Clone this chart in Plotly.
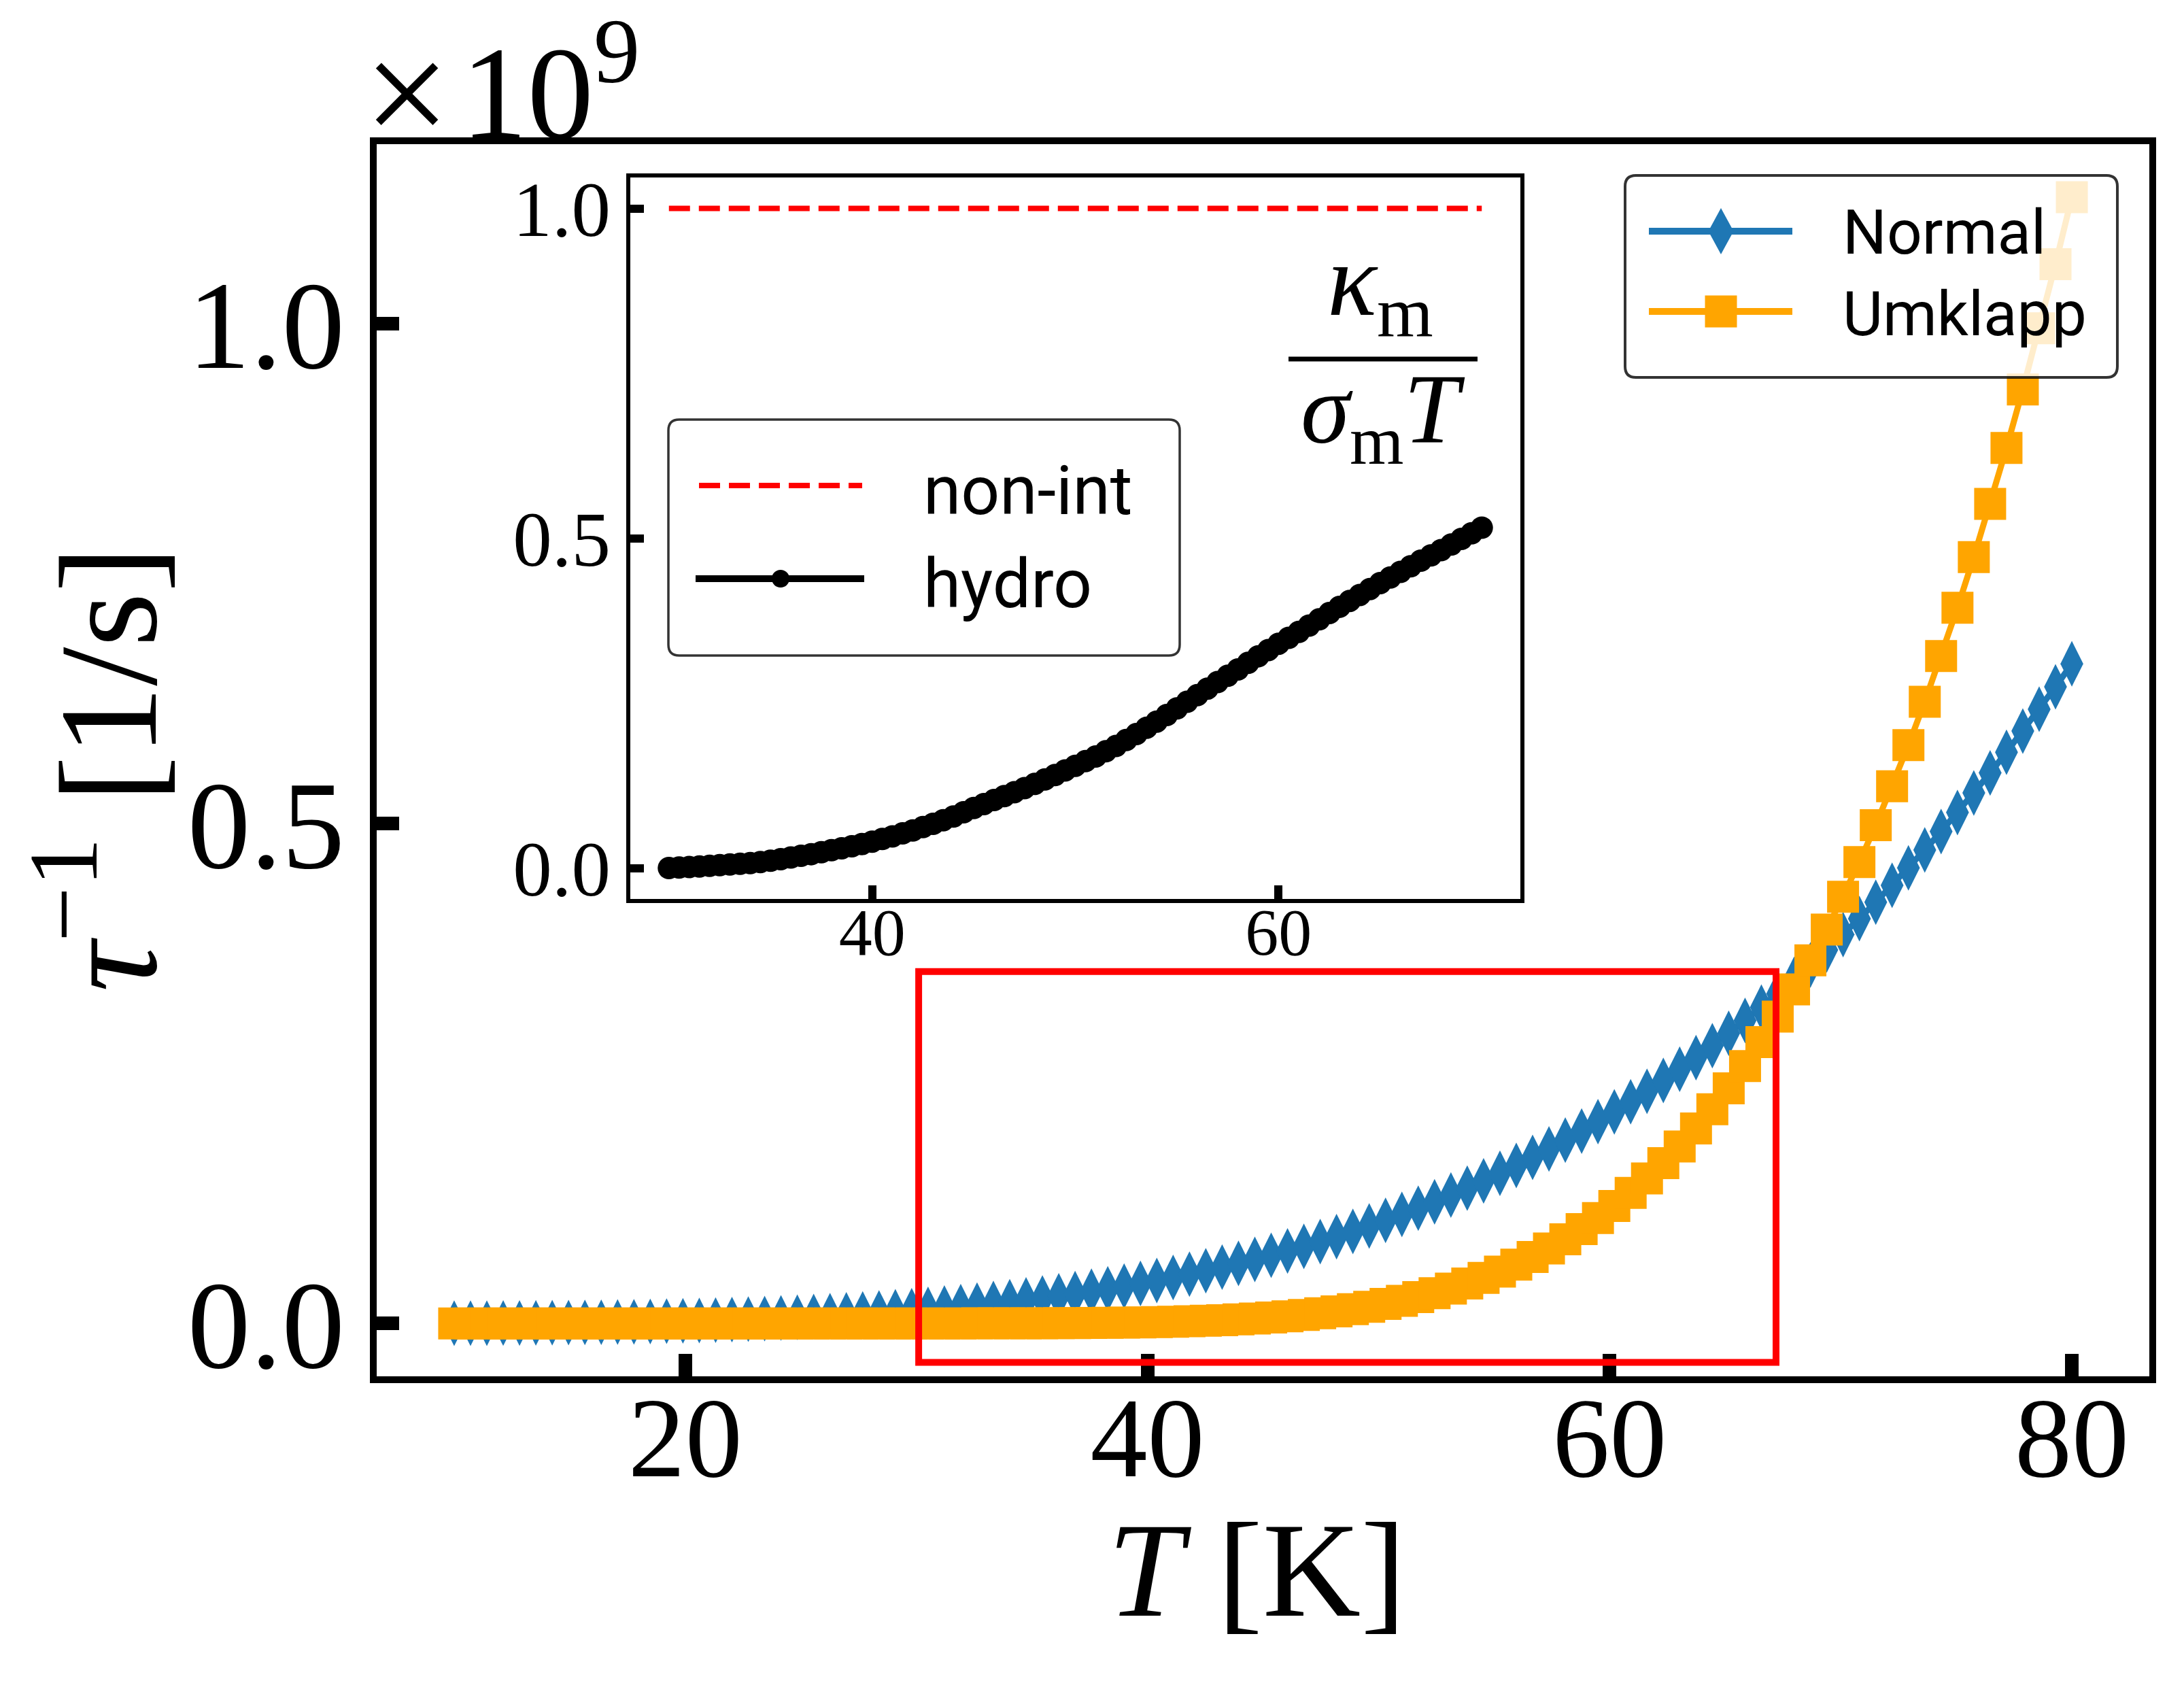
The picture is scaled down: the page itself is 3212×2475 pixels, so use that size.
import plotly.graph_objects as go

# ---------------- data ----------------
T_main = [10.000, 10.707, 11.414, 12.121, 12.828, 13.535, 14.242, 14.949, 15.657, 16.364,
          17.071, 17.778, 18.485, 19.192, 19.899, 20.606, 21.313, 22.020, 22.727, 23.434,
          24.141, 24.848, 25.556, 26.263, 26.970, 27.677, 28.384, 29.091, 29.798, 30.505,
          31.212, 31.919, 32.626, 33.333, 34.040, 34.747, 35.455, 36.162, 36.869, 37.576,
          38.283, 38.990, 39.697, 40.404, 41.111, 41.818, 42.525, 43.232, 43.939, 44.646,
          45.354, 46.061, 46.768, 47.475, 48.182, 48.889, 49.596, 50.303, 51.010, 51.717,
          52.424, 53.131, 53.838, 54.545, 55.253, 55.960, 56.667, 57.374, 58.081, 58.788,
          59.495, 60.202, 60.909, 61.616, 62.323, 63.030, 63.737, 64.444, 65.152, 65.859,
          66.566, 67.273, 67.980, 68.687, 69.394, 70.101, 70.808, 71.515, 72.222, 72.929,
          73.636, 74.343, 75.051, 75.758, 76.465, 77.172, 77.879, 78.586, 79.293, 80.000]

# tau^-1 in units of 1e9 1/s
normal = [0.00016, 0.00021, 0.00027, 0.00035, 0.00044, 0.00054, 0.00066, 0.00080, 0.00097, 0.00116,
          0.00137, 0.00161, 0.00188, 0.00219, 0.00253, 0.00291, 0.00332, 0.00379, 0.00430, 0.00486,
          0.00547, 0.00614, 0.00687, 0.00767, 0.00853, 0.00945, 0.01046, 0.01154, 0.01270, 0.01395,
          0.01529, 0.01673, 0.01826, 0.01989, 0.02163, 0.02349, 0.02546, 0.02755, 0.02977, 0.03212,
          0.03461, 0.03724, 0.04001, 0.04294, 0.04603, 0.04928, 0.05269, 0.05629, 0.06006, 0.06402,
          0.06818, 0.07253, 0.07709, 0.08185, 0.08684, 0.09205, 0.09749, 0.10317, 0.10909, 0.11527,
          0.12170, 0.12840, 0.13537, 0.14263, 0.15018, 0.15801, 0.16615, 0.17460, 0.18336, 0.19246,
          0.20188, 0.21165, 0.22177, 0.23225, 0.24309, 0.25431, 0.26592, 0.27791, 0.29033, 0.30314,
          0.31636, 0.33002, 0.34411, 0.35865, 0.37365, 0.38911, 0.40505, 0.42147, 0.43839, 0.45581,
          0.47374, 0.49220, 0.51122, 0.53076, 0.55085, 0.57151, 0.59274, 0.61456, 0.63697, 0.66000]

umklapp = [0.0, 0.0, 0.0, 0.0, 0.0, 0.0, 0.0, 0.0, 0.0, 0.0,
           0.0, 0.0, 0.0, 0.0, 0.0, 0.0, 0.0, 0.0, 0.0, 0.0,
           0.0, 0.0, 0.0, 0.0, 0.000002, 0.000003, 0.000004, 0.000007, 0.000010, 0.000016,
           0.000024, 0.000036, 0.000052, 0.000074, 0.000105, 0.000146, 0.000200, 0.000271, 0.000362, 0.000480,
           0.000628, 0.000815, 0.00105, 0.00134, 0.00169, 0.00212, 0.00263, 0.00325, 0.00399, 0.00487,
           0.00590, 0.00711, 0.00852, 0.01014, 0.01203, 0.01419, 0.01665, 0.01946, 0.02265, 0.02625,
           0.03030, 0.03483, 0.03990, 0.04558, 0.05186, 0.05882, 0.06646, 0.07494, 0.08415, 0.09431,
           0.10548, 0.11751, 0.13065, 0.14497, 0.16036, 0.17705, 0.19508, 0.21430, 0.23518, 0.25755,
           0.28139, 0.30696, 0.33419, 0.36321, 0.39405, 0.42688, 0.46164, 0.49849, 0.53746, 0.57863,
           0.62208, 0.66784, 0.71611, 0.76683, 0.82004, 0.87591, 0.93454, 0.99581, 1.05993, 1.12694]

T_inset = [30.0, 30.5, 31.0, 31.5, 32.0, 32.5, 33.0, 33.5, 34.0, 34.5,
           35.0, 35.5, 36.0, 36.5, 37.0, 37.5, 38.0, 38.5, 39.0, 39.5,
           40.0, 40.5, 41.0, 41.5, 42.0, 42.5, 43.0, 43.5, 44.0, 44.5,
           45.0, 45.5, 46.0, 46.5, 47.0, 47.5, 48.0, 48.5, 49.0, 49.5,
           50.0, 50.5, 51.0, 51.5, 52.0, 52.5, 53.0, 53.5, 54.0, 54.5,
           55.0, 55.5, 56.0, 56.5, 57.0, 57.5, 58.0, 58.5, 59.0, 59.5,
           60.0, 60.5, 61.0, 61.5, 62.0, 62.5, 63.0, 63.5, 64.0, 64.5,
           65.0, 65.5, 66.0, 66.5, 67.0, 67.5, 68.0, 68.5, 69.0, 69.5,
           70.0]

hydro = [0.0000, 0.0007, 0.0015, 0.0024, 0.0033, 0.0043, 0.0053, 0.0064, 0.0075, 0.0091,
         0.0110, 0.0134, 0.0160, 0.0185, 0.0210, 0.0240, 0.0270, 0.0300, 0.0330, 0.0364,
         0.0400, 0.0440, 0.0480, 0.0525, 0.0570, 0.0620, 0.0670, 0.0725, 0.0780, 0.0845,
         0.0910, 0.0970, 0.1030, 0.1090, 0.1150, 0.1212, 0.1275, 0.1342, 0.1410, 0.1480,
         0.1550, 0.1620, 0.1690, 0.1770, 0.1850, 0.1940, 0.2030, 0.2125, 0.2220, 0.2320,
         0.2420, 0.2520, 0.2620, 0.2720, 0.2820, 0.2915, 0.3010, 0.3110, 0.3210, 0.3305,
         0.3400, 0.3490, 0.3580, 0.3675, 0.3770, 0.3865, 0.3960, 0.4050, 0.4140, 0.4230,
         0.4320, 0.4405, 0.4490, 0.4575, 0.4660, 0.4740, 0.4820, 0.4905, 0.4990, 0.5075,
         0.5160]

T_nonint = [30.0, 70.0]
nonint = [1.0, 1.0]

main_xticks = [20, 40, 60, 80]
main_yticks = [0.0, 0.5, 1.0]
main_yticktext = ["0.0", "0.5", "1.0"]
inset_xticks = [40, 60]
inset_yticks = [0.0, 0.5, 1.0]
inset_yticktext = ["0.0", "0.5", "1.0"]

zoom_box = dict(x0=30.1, x1=67.2, y0=-0.039, y1=0.352)

# ---------------- layout geometry (pixels) ----------------
W, H = 3212, 2475
# spines (line centres) of the main axes: x 549..3166, y 207..2029; plotly draws
# axis lines outside the plot area, so the plot area is inset by half a line width
LW_MAIN = 10
ML, MR, MT, MB = 549 + 5, 46 + 5, 207 + 5, 446 + 5
PW = W - ML - MR
PH = H - MT - MB
PXU = 2617 / 77.0          # px per K between spine centres
PYU = 1822 / 1.2397        # px per 1e9 between spine centres
XR = [6.5 + 5 / PXU, 83.5 - 5 / PXU]
YR = [-0.05635 + 5 / PYU, 1.18335 - 5 / PYU]

# inset spines: x 924..2239, y 258..1325 (line width 6)
IPXU = 1315 / 44.0
IPYU = 1067 / 1.1
IXR = [28 + 3 / IPXU, 72 - 3 / IPXU]
IYR = [-0.05 + 3 / IPYU, 1.05 - 3 / IPYU]

def px(x):
    return (x - ML) / PW

def py(y):
    return (H - MB - y) / PH

def P(x, y):
    return f"{px(x):.5f},{py(y):.5f}"

def rrect(x0, y0, x1, y1, r):
    return (f"M{P(x0 + r, y0)} L{P(x1 - r, y0)} Q{P(x1, y0)} {P(x1, y0 + r)} "
            f"L{P(x1, y1 - r)} Q{P(x1, y1)} {P(x1 - r, y1)} L{P(x0 + r, y1)} "
            f"Q{P(x0, y1)} {P(x0, y1 - r)} L{P(x0, y0 + r)} Q{P(x0, y0)} {P(x0 + r, y0)} Z")

BLUE = "#1f77b4"
ORANGE = "#ffa500"
SERIF = "Liberation Serif"
SANS = "Roboto"

fig = go.Figure()
fig.add_trace(go.Scatter(x=T_main, y=normal, mode="lines+markers", name="Normal",
                         line=dict(color=BLUE, width=9),
                         marker=dict(symbol="diamond-tall", size=48, color=BLUE, line=dict(width=0)),
                         xaxis="x", yaxis="y", hoverinfo="skip"))
fig.add_trace(go.Scatter(x=T_main, y=umklapp, mode="lines+markers", name="Umklapp",
                         line=dict(color=ORANGE, width=9),
                         marker=dict(symbol="square", size=47, color=ORANGE, line=dict(width=0)),
                         xaxis="x", yaxis="y", hoverinfo="skip"))
fig.add_trace(go.Scatter(x=T_nonint, y=nonint, mode="lines", name="non-int",
                         line=dict(color="red", width=8, dash="31px,13px"),
                         xaxis="x2", yaxis="y2", hoverinfo="skip"))
fig.add_trace(go.Scatter(x=T_inset, y=hydro, mode="lines+markers", name="hydro",
                         line=dict(color="black", width=12),
                         marker=dict(symbol="circle", size=33, color="black", line=dict(width=0)),
                         xaxis="x2", yaxis="y2", hoverinfo="skip"))

axis_common = dict(showgrid=False, zeroline=False, showline=True, linecolor="black",
                   mirror=True, ticks="inside", tickcolor="black")

shapes = []
# zoom rectangle in the main axes
shapes.append(dict(type="rect", xref="x", yref="y", layer="above",
                   line=dict(color="red", width=10), fillcolor="rgba(0,0,0,0)", **zoom_box))
# main legend
shapes.append(dict(type="path", xref="paper", yref="paper", layer="above",
                   path=rrect(2390, 258, 3114, 555, 16),
                   fillcolor="rgba(255,255,255,0.8)", line=dict(color="rgba(0,0,0,0.8)", width=4)))
shapes.append(dict(type="line", xref="paper", yref="paper", layer="above",
                   x0=px(2425), x1=px(2636), y0=py(340), y1=py(340), line=dict(color=BLUE, width=10)))
shapes.append(dict(type="path", xref="paper", yref="paper", layer="above",
                   path=f"M{P(2531, 306)} L{P(2549.5, 340)} L{P(2531, 374)} L{P(2512.5, 340)} Z",
                   fillcolor=BLUE, line=dict(width=0)))
shapes.append(dict(type="line", xref="paper", yref="paper", layer="above",
                   x0=px(2425), x1=px(2636), y0=py(458), y1=py(458), line=dict(color=ORANGE, width=10)))
shapes.append(dict(type="rect", xref="paper", yref="paper", layer="above",
                   x0=px(2507.5), x1=px(2554.5), y0=py(481.5), y1=py(434.5),
                   fillcolor=ORANGE, line=dict(width=0)))
# inset legend
shapes.append(dict(type="path", xref="paper", yref="paper", layer="above",
                   path=rrect(983, 617, 1735, 964, 16),
                   fillcolor="rgba(255,255,255,0.8)", line=dict(color="rgba(0,0,0,0.8)", width=3.5)))
shapes.append(dict(type="line", xref="paper", yref="paper", layer="above",
                   x0=px(1028), x1=px(1268), y0=py(714), y1=py(714),
                   line=dict(color="red", width=8, dash="31px,13px")))
shapes.append(dict(type="line", xref="paper", yref="paper", layer="above",
                   x0=px(1023), x1=px(1271), y0=py(851), y1=py(851), line=dict(color="black", width=10)))
shapes.append(dict(type="circle", xref="paper", yref="paper", layer="above",
                   x0=px(1135), x1=px(1161), y0=py(864), y1=py(838),
                   fillcolor="black", line=dict(width=0)))
# fraction bar of the inset label
shapes.append(dict(type="line", xref="paper", yref="paper", layer="above",
                   x0=px(1895), x1=px(2173), y0=py(528), y1=py(528), line=dict(color="black", width=7)))

ann = []
def A(text, x, y, size, family=SERIF, xanchor="center", yanchor="middle", angle=0):
    ann.append(dict(text=text, x=px(x), y=py(y), xref="paper", yref="paper", showarrow=False,
                    xanchor=xanchor, yanchor=yanchor, textangle=angle,
                    font=dict(family=family, size=size, color="black")))

A("×", 598, 137, 225)
A("10<sup>9</sup>", 676, 247, 195, xanchor="left", yanchor="bottom")
A("<i>τ</i><sup>−1</sup> [1/s]", 144, 1131, 206, angle=-90)
A("<i>T</i> [K]", 1848, 2308, 200)
A("Normal", 2708, 342, 91, family=SANS, xanchor="left")
A("Umklapp", 2708, 462, 91, family=SANS, xanchor="left")
A("non-int", 1356, 721, 100, family=SANS, xanchor="left")
A("hydro", 1356, 858, 100, family=SANS, xanchor="left")
A("<i>κ</i><sub>m</sub>", 2030, 423, 152)
A("<i>σ</i><sub>m</sub><i>T</i>", 2034, 612, 146)

fig.update_layout(
    width=W, height=H,
    margin=dict(l=ML, r=MR, t=MT, b=MB, pad=0),
    paper_bgcolor="white", plot_bgcolor="white",
    showlegend=False, hovermode=False,
    xaxis=dict(domain=[0, 1], anchor="y", range=XR,
               tickvals=main_xticks, ticktext=[str(v) for v in main_xticks],
               ticklen=33, tickwidth=20, linewidth=LW_MAIN, ticklabelstandoff=-65,
               tickfont=dict(family=SERIF, size=168, color="black"), **axis_common),
    yaxis=dict(domain=[0, 1], anchor="x", range=YR,
               tickvals=main_yticks, ticktext=main_yticktext,
               ticklen=33, tickwidth=20, linewidth=LW_MAIN,
               tickfont=dict(family=SERIF, size=185, color="black"), **axis_common),
    xaxis2=dict(domain=[px(927), px(2236)], anchor="y2", range=IXR,
                tickvals=inset_xticks, ticktext=[str(v) for v in inset_xticks],
                ticklen=20, tickwidth=12, linewidth=6, ticklabelstandoff=-42,
                tickfont=dict(family=SERIF, size=98, color="black"), **axis_common),
    yaxis2=dict(domain=[py(1322), py(261)], anchor="x2", range=IYR,
                tickvals=inset_yticks, ticktext=inset_yticktext,
                ticklen=20, tickwidth=12, linewidth=6,
                tickfont=dict(family=SERIF, size=115, color="black"), **axis_common),
    shapes=shapes,
    annotations=ann,
)

fig.write_html("out.html", config={"displayModeBar": False},
               post_script="document.body.style.margin='0px';")
